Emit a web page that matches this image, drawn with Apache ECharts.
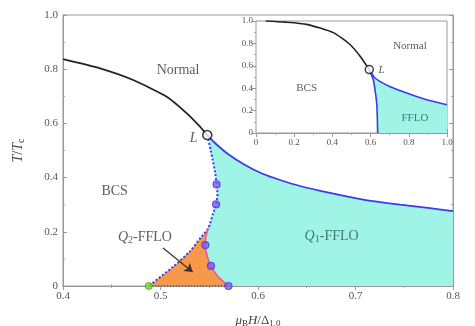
<!DOCTYPE html>
<html>
<head>
<meta charset="utf-8">
<script src="https://cdn.jsdelivr.net/npm/echarts@6/dist/echarts.min.js"></script>
<style>html,body{margin:0;padding:0;background:#fff}#c{width:475px;height:326px}</style>
</head>
<body>
<div id="c"></div>
<script>
// ---- main panel data ----
const xTicksMain = [0.4, 0.5, 0.6, 0.7, 0.8];
const yTicksMain = [0, 0.2, 0.4, 0.6, 0.8, 1.0];
const normalBcsLine = [[0.40,0.837],[0.438,0.803],[0.472,0.760],[0.506,0.699],[0.527,0.637],[0.5405,0.588],[0.548,0.557]];
const normalFfloLine = [[0.548,0.557],[0.5559,0.5277],[0.5692,0.4871],[0.5867,0.4465],[0.6041,0.4151],[0.6226,0.3911],[0.6431,0.369],[0.6738,0.3432],[0.7077,0.319],[0.7456,0.300],[0.7764,0.287],[0.80,0.276]];
const bcsFfloDotted = [[0.548,0.557],[0.5515,0.50],[0.5535,0.465],[0.556,0.42],[0.5575,0.375],[0.5585,0.34],[0.557,0.301],[0.554,0.268],[0.549,0.213],[0.542,0.182],[0.530,0.127],[0.513,0.071],[0.488,0]];
const q2RightEdge = [[0.549,0.213],[0.5465,0.18],[0.546,0.151],[0.548,0.11],[0.5518,0.074],[0.559,0.035],[0.5697,0]];
const q2Bottom = [[0.488,0],[0.5697,0]];
const purpleMarkers = [[0.5575,0.375],[0.557,0.301],[0.546,0.151],[0.5518,0.074],[0.5697,0]];
const greenMarker = [[0.488,0]];
const lPointMain = [[0.548,0.557]];
const arrowFrom = [0.5026,0.140];
const arrowTo = [0.533,0.052];

// ---- inset data ----
const xTicksInset = [0, 0.2, 0.4, 0.6, 0.8, 1.0];
const yTicksInset = [0, 0.2, 0.4, 0.6, 0.8, 1.0];
const insetNormalBcs = [[0.05,1.0],[0.15,0.99],[0.265,0.97],[0.405,0.896],[0.492,0.79],[0.545,0.686],[0.593,0.566]];
const insetUpper = [[0.593,0.566],[0.623,0.491],[0.66,0.45],[0.70,0.416],[0.789,0.357],[0.894,0.297],[1.0,0.252]];
const insetLower = [[0.593,0.566],[0.614,0.476],[0.623,0.386],[0.632,0.267],[0.635,0.146],[0.637,0]];
const lPointInset = [[0.593,0.566]];

// polygons built from the arrays
const q1Poly = bcsFfloDotted.slice(0, 9).concat(q2RightEdge.slice(1), [[0.8,0]], normalFfloLine.slice().reverse());
const q2Poly = bcsFfloDotted.slice(8).reverse().concat(q2RightEdge.slice(1));
const insetPoly = insetLower.concat([[1.0,0]], insetUpper.slice().reverse());

const CYAN = '#9ff4e6', ORANGE = '#f7984a', BLUE = '#3b3be8', FONT = 'Liberation Serif';
const fmt = v => v === 0 ? '0' : v.toFixed(1);

function polySeries(poly, color, xi, yi, z) {
  return {
    type: 'custom', xAxisIndex: xi, yAxisIndex: yi, z: z, silent: true, clip: true,
    data: poly,
    renderItem: function (params, api) {
      if (params.dataIndex !== 0) return null;
      return { type: 'polygon', shape: { points: poly.map(p => api.coord(p)) }, style: { fill: color } };
    }
  };
}
function lineSeries(data, color, width, type, xi, yi, z) {
  return { type: 'line', data: data, xAxisIndex: xi, yAxisIndex: yi, z: z, symbol: 'none', smooth: 0.2, silent: true,
    lineStyle: { color: color, width: width, type: type } };
}
function richFor(size, color) {
  return {
    i: { fontFamily: FONT, fontStyle: 'italic', fontSize: size, color: color, lineHeight: size + 2 },
    s: { fontFamily: FONT, fontSize: Math.round(size * 0.68), color: color, verticalAlign: 'bottom', lineHeight: size + 2 },
    n: { fontFamily: FONT, fontSize: size, color: color, lineHeight: size + 2 }
  };
}
function textSeries(x, y, text, size, xi, yi, z, color) {
  const c = color || '#333';
  return { type: 'scatter', xAxisIndex: xi, yAxisIndex: yi, z: z, symbolSize: 0, silent: true,
    data: [[x, y]],
    label: { show: true, position: 'inside', formatter: text, fontFamily: FONT, fontSize: size, color: c, lineHeight: size + 2,
      rich: richFor(size, c) } };
}
function axisCommon(min, max, interval, labelSize, showLabel) {
  return {
    type: 'value', min: min, max: max, interval: interval,
    axisLine: { show: true, lineStyle: { color: '#999', width: 1 } },
    axisTick: { show: true, inside: true, length: 4, lineStyle: { color: '#999' } },
    minorTick: { show: true, splitNumber: 2, length: 2, lineStyle: { color: '#aaa' } },
    splitLine: { show: false },
    axisLabel: { show: showLabel, formatter: fmt, fontFamily: FONT, fontSize: labelSize, color: '#555', margin: 5 }
  };
}

const chart = echarts.init(document.getElementById('c'), null, { renderer: 'canvas' });
const option = {
  animation: false,
  grid: [
    { left: 63, right: 22, top: 15, bottom: 40, show: true, borderColor: '#999', borderWidth: 1, backgroundColor: '#fff', z: 0, containLabel: false, outerBoundsMode: 'none' },
    { left: 256, right: 28, top: 21, bottom: 193, show: true, borderColor: '#999', borderWidth: 1, backgroundColor: '#fff', z: 5, containLabel: false, outerBoundsMode: 'none' }
  ],
  xAxis: [
    Object.assign(axisCommon(0.4, 0.8, 0.1, 11, true), { gridIndex: 0, position: 'bottom',
      name: '{i|μ}{s|B}{i|H}{n|/Δ}{s|1.0}', nameLocation: 'middle', nameGap: 27,
      nameTextStyle: { fontFamily: FONT, fontSize: 13, color: '#444', rich: richFor(13, '#444') } }),
    Object.assign(axisCommon(0.4, 0.8, 0.1, 11, false), { gridIndex: 0, position: 'top' }),
    Object.assign(axisCommon(0, 1, 0.2, 9, true), { gridIndex: 1, position: 'bottom' }),
    Object.assign(axisCommon(0, 1, 0.2, 9, false), { gridIndex: 1, position: 'top' })
  ],
  yAxis: [
    Object.assign(axisCommon(0, 1, 0.2, 11, true), { gridIndex: 0, position: 'left',
      name: '{i|T}{n|/}{i|T}{s|c}', nameLocation: 'middle', nameGap: 37, nameRotate: 90,
      nameTextStyle: { fontFamily: FONT, fontSize: 14, color: '#444', rich: richFor(14, '#444') } }),
    Object.assign(axisCommon(0, 1, 0.2, 11, false), { gridIndex: 0, position: 'right' }),
    Object.assign(axisCommon(0, 1, 0.2, 9, true), { gridIndex: 1, position: 'left', axisLabel: { formatter: fmt, fontFamily: FONT, fontSize: 9, color: '#555', margin: 3 } }),
    Object.assign(axisCommon(0, 1, 0.2, 9, false), { gridIndex: 1, position: 'right' })
  ],
  series: [
    // main panel
    polySeries(q1Poly, CYAN, 0, 0, 1),
    polySeries(q2Poly, ORANGE, 0, 0, 1),
    lineSeries(normalBcsLine, '#222', 1.8, 'solid', 0, 0, 3),
    lineSeries(normalFfloLine, BLUE, 1.8, 'solid', 0, 0, 3),
    lineSeries(bcsFfloDotted, BLUE, 2, 'dotted', 0, 0, 3),
    lineSeries(q2RightEdge, '#e05aa0', 1.5, 'solid', 0, 0, 3),
    Object.assign(lineSeries(q2Bottom, '#555', 1.5, 'dotted', 0, 0, 3), { smooth: false }),
    { type: 'scatter', xAxisIndex: 0, yAxisIndex: 0, z: 4, data: purpleMarkers, symbol: 'circle', symbolSize: 7, silent: true,
      itemStyle: { color: '#8a5ae8', borderColor: '#3b3be8', borderWidth: 1.2 } },
    { type: 'scatter', xAxisIndex: 0, yAxisIndex: 0, z: 4, data: greenMarker, symbol: 'circle', symbolSize: 7, silent: true,
      itemStyle: { color: '#74dc30', borderColor: '#4a9a20', borderWidth: 1 } },
    { type: 'scatter', xAxisIndex: 0, yAxisIndex: 0, z: 5, data: lPointMain, symbol: 'circle', symbolSize: 9, silent: true,
      itemStyle: { color: '#fff', borderColor: '#111', borderWidth: 1.6 } },
    { type: 'scatter', xAxisIndex: 0, yAxisIndex: 0, z: 4, data: [], silent: true,
      markLine: { silent: true, symbol: ['none', 'arrow'], symbolSize: 8, label: { show: false },
        lineStyle: { color: '#333', width: 1.2, type: 'solid' },
        data: [[{ coord: arrowFrom }, { coord: arrowTo }]] } },
    textSeries(0.518, 0.797, 'Normal', 14, 0, 0, 6),
    textSeries(0.453, 0.348, 'BCS', 14, 0, 0, 6),
    textSeries(0.484, 0.18, '{i|Q}{s|2}{n|-FFLO}', 14, 0, 0, 6),
    textSeries(0.6755, 0.182, '{i|Q}{s|1}{n|-FFLO}', 14, 0, 0, 6, '#2f5550'),
    textSeries(0.534, 0.545, '{i|L}', 14, 0, 0, 6),
    // inset
    polySeries(insetPoly, CYAN, 2, 2, 10),
    lineSeries(insetNormalBcs, '#222', 1.6, 'solid', 2, 2, 11),
    lineSeries(insetUpper, BLUE, 1.6, 'solid', 2, 2, 11),
    lineSeries(insetLower, BLUE, 1.6, 'solid', 2, 2, 11),
    { type: 'scatter', xAxisIndex: 2, yAxisIndex: 2, z: 12, data: lPointInset, symbol: 'circle', symbolSize: 8, silent: true,
      itemStyle: { color: '#fff', borderColor: '#111', borderWidth: 1.5 } },
    textSeries(0.806, 0.775, 'Normal', 11, 2, 2, 13),
    textSeries(0.265, 0.40, 'BCS', 11, 2, 2, 13),
    textSeries(0.832, 0.132, 'FFLO', 11, 2, 2, 13, '#2f5550'),
    textSeries(0.658, 0.56, '{i|L}', 11, 2, 2, 13)
  ]
};
chart.setOption(option);
</script>
</body>
</html>
